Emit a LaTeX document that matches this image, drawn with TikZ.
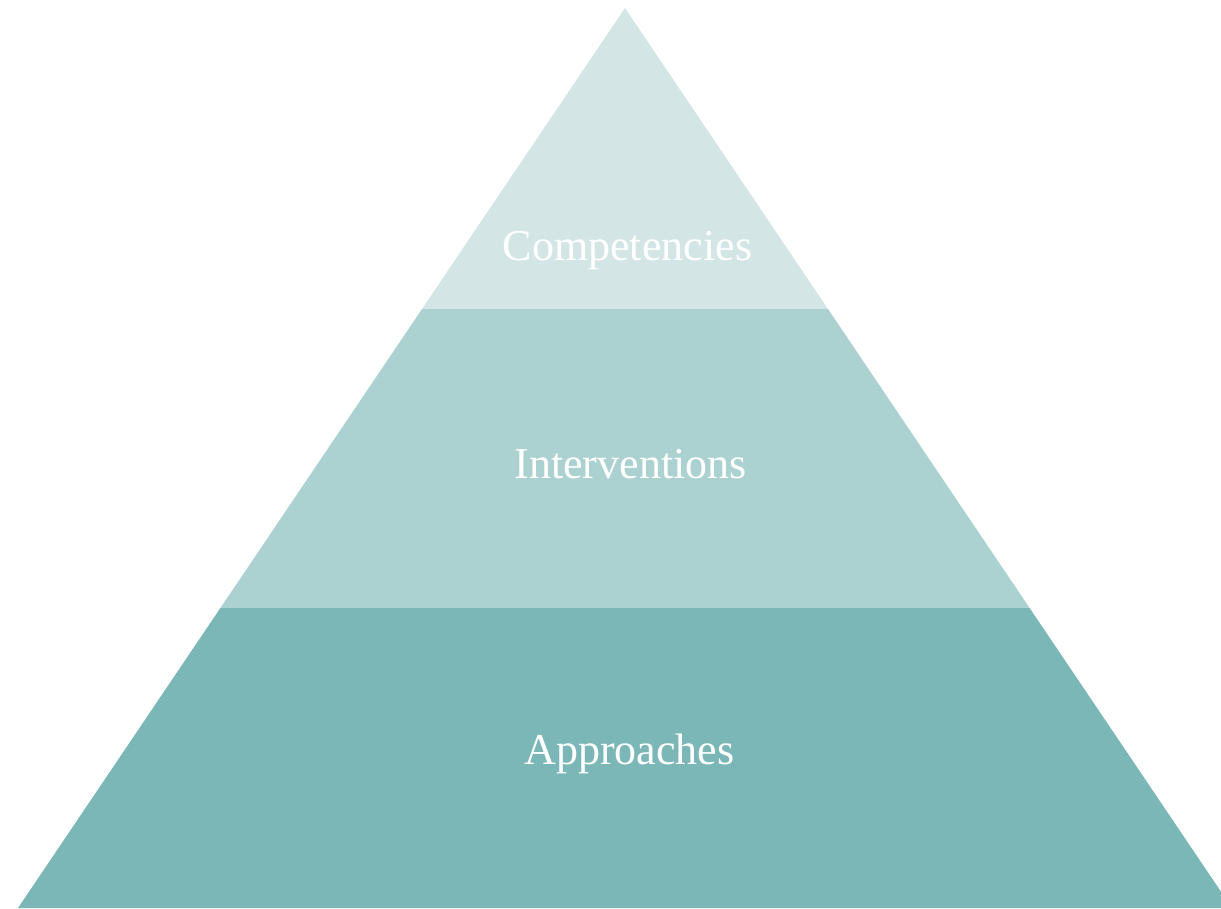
\documentclass[tikz,border=0pt]{standalone}
\usepackage{fontspec}
\setmainfont{Liberation Serif}
\definecolor{tierTop}{HTML}{D3E6E5}
\definecolor{tierMid}{HTML}{ABD2D1}
\definecolor{tierLow}{HTML}{7BB7B7}
\tikzset{
  tierlabel/.style={anchor=base,text=white,inner sep=0pt,font=\fontsize{44}{50}\selectfont}
}
\begin{document}
\begin{tikzpicture}[x=1pt,y=-1pt]
    \useasboundingbox (0,0) rectangle (1221,908);
    \clip (0,0) rectangle (1221,908);
    \def\ax{625}
    \def\ay{8}
    \coordinate (T0) at (\ax,\ay);
    \coordinate (L1) at (422,309);
    \coordinate (R1) at (828,309);
    \coordinate (L2) at (220.4,608);
    \coordinate (R2) at (1029.6,608);
    \coordinate (L3) at (18,908);
    \coordinate (R3) at (1232,908);
    \fill [tierTop] (T0) -- (R1) -- (L1) -- cycle;
    \fill [tierMid] (L1) -- (R1) -- (R2) -- (L2) -- cycle;
    \fill [tierLow] (L2) -- (R2) -- (R3) -- (L3) -- cycle;
    \node [tierlabel] (C0) at (627.5,260) {Competencies};
    \node [tierlabel] (C1) at (630.5,478) {Interventions};
    \node [tierlabel] (C2) at (629.5,764) {Approaches};
  \end{tikzpicture}
\end{document}
